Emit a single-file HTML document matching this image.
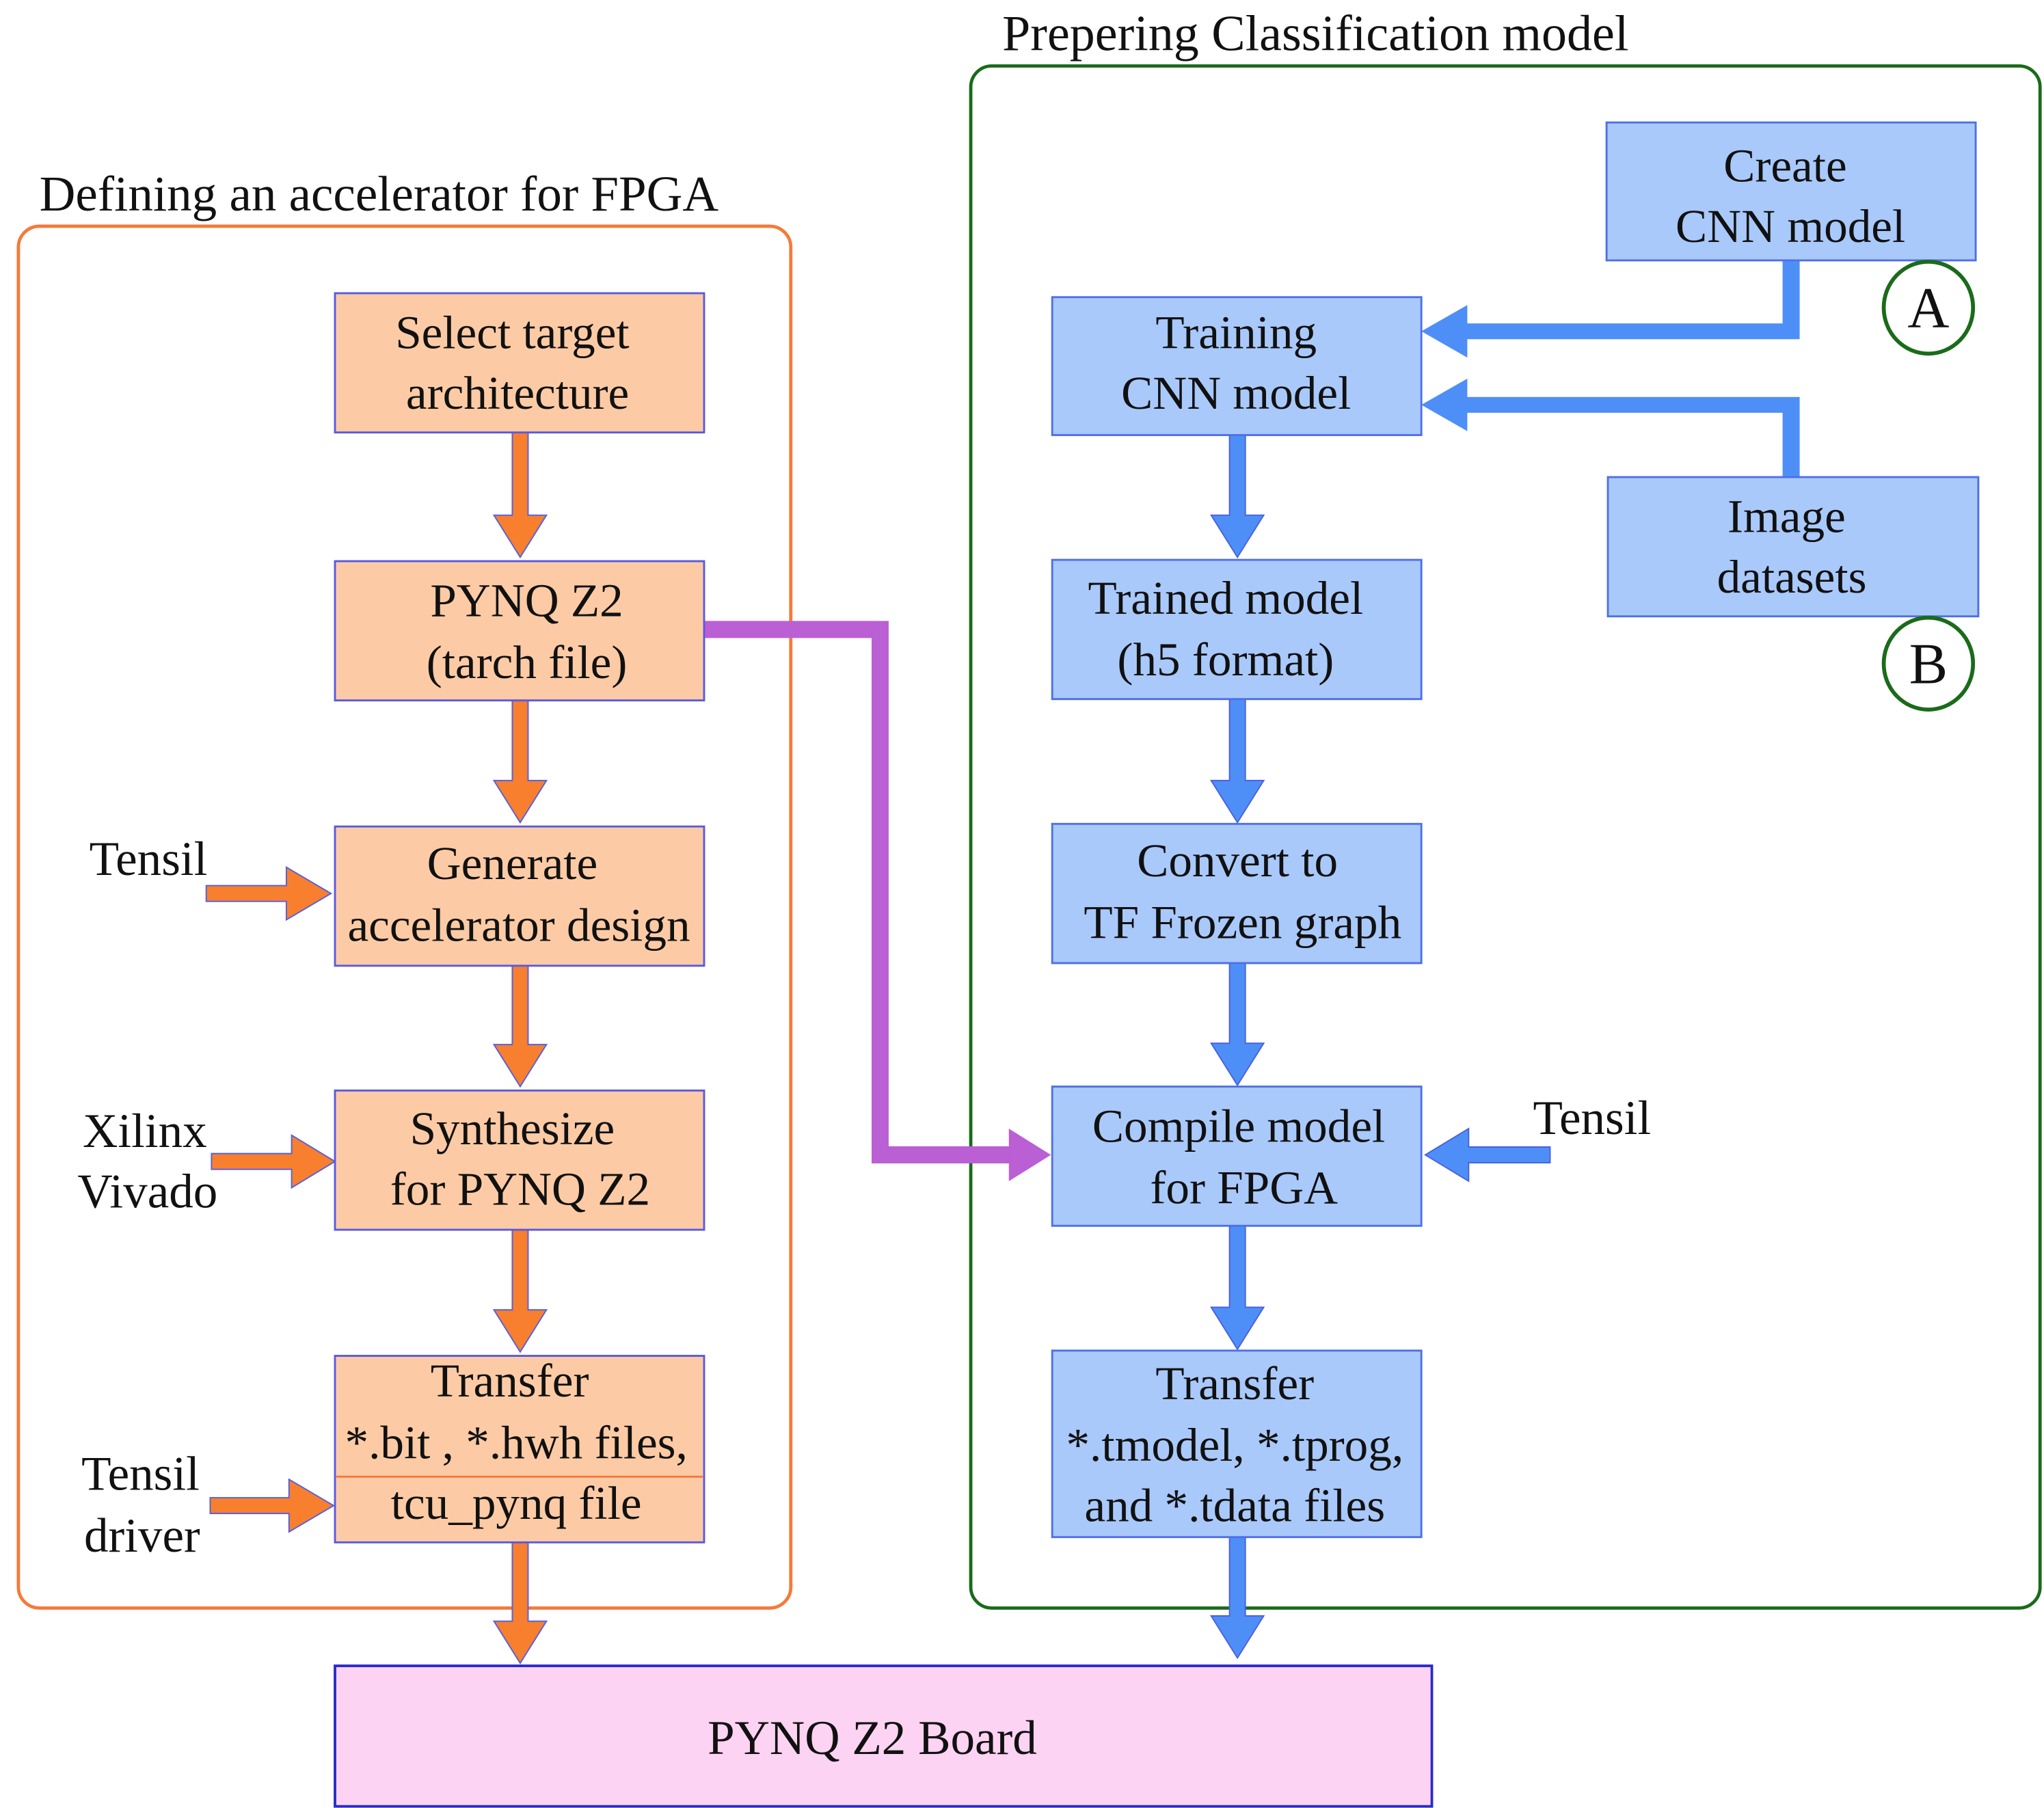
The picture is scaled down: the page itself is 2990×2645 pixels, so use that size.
<!DOCTYPE html>
<html><head><meta charset="utf-8"><style>
html,body{margin:0;padding:0;background:#fff;}
svg{display:block;}
text{font-family:"Liberation Serif",serif;fill:#111;}
</style></head><body>
<svg width="2990" height="2645" viewBox="0 0 1556 1376" xmlns="http://www.w3.org/2000/svg">
<rect x="0" y="0" width="1556" height="1376" fill="#fff"/>
<!-- containers -->
<rect x="14" y="172" width="588" height="1052" rx="16" fill="none" stroke="#f57a3a" stroke-width="2.5"/>
<text x="30" y="160" font-size="38">Defining an accelerator for FPGA</text>
<rect x="739" y="50" width="814" height="1174" rx="16" fill="none" stroke="#1a6b1a" stroke-width="2.5"/>
<text x="763" y="38" font-size="38.5">Prepering Classification model</text>

<!-- purple connector -->
<path d="M536 479 H670 V879 H770" fill="none" stroke="#bb5fd4" stroke-width="13"/>
<path d="M768 859 L800 879 L768 899 Z" fill="#bb5fd4"/>

<!-- orange vertical arrows -->
<g fill="#f77f2e" stroke="#5560e0" stroke-width="1">
<path d="M390 329 V392 H376 L396 424 L416 392 H402 V329 Z"/>
<path d="M390 533 V594 H376 L396 626 L416 594 H402 V533 Z"/>
<path d="M390 735 V795 H376 L396 827 L416 795 H402 V735 Z"/>
<path d="M390 936 V997 H376 L396 1029 L416 997 H402 V936 Z"/>
<path d="M390 1174 V1234 H376 L396 1266 L416 1234 H402 V1174 Z"/>
<!-- horizontal -->
<path d="M157 674 H218 V660 L252 680 L218 700 V686 H157 Z"/>
<path d="M161 878 H222 V864 L255 884 L222 904 V890 H161 Z"/>
<path d="M160 1140 H220 V1126 L254 1146 L220 1166 V1152 H160 Z"/>
</g>

<!-- orange boxes -->
<g fill="#fccba5" stroke="#5a5ae0" stroke-width="1.5">
<rect x="255" y="223" width="281" height="106"/>
<rect x="255" y="427" width="281" height="106"/>
<rect x="255" y="629" width="281" height="106"/>
<rect x="255" y="830" width="281" height="106"/>
<rect x="255" y="1032" width="281" height="142"/>
</g>
<line x1="256" y1="1124" x2="535" y2="1124" stroke="#f57a3a" stroke-width="1.5"/>
<g font-size="36" text-anchor="middle">
<text x="390" y="265">Select target</text>
<text x="394" y="311">architecture</text>
<text x="401" y="469">PYNQ Z2</text>
<text x="401" y="516">(tarch file)</text>
<text x="390" y="669">Generate</text>
<text x="395" y="716">accelerator design</text>
<text x="390" y="871">Synthesize</text>
<text x="396" y="917">for PYNQ Z2</text>
<text x="388" y="1063">Transfer</text>
<text x="393" y="1110">*.bit , *.hwh files,</text>
<text x="393" y="1156">tcu_pynq file</text>
</g>
<g font-size="37">
<text x="68" y="666">Tensil</text>
<text x="63" y="873">Xilinx</text>
<text x="59" y="919">Vivado</text>
<text x="62" y="1134">Tensil</text>
<text x="64" y="1181">driver</text>
<text x="1167" y="863">Tensil</text>
</g>

<!-- board -->
<rect x="255" y="1268" width="835" height="107" fill="#fcd3f3" stroke="#2a2ac8" stroke-width="2"/>
<text x="664" y="1335" font-size="37" text-anchor="middle">PYNQ Z2 Board</text>

<!-- blue connectors -->
<g fill="#4e8ff7">
<path d="M1357 198 H1370 V258 H1117 V272 L1082 252 L1117 232 V246 H1357 Z"/>
<path d="M1357 363 H1370 V302 H1117 V288 L1082 308 L1117 328 V314 H1357 Z"/>
</g>
<g fill="#4e8ff7" stroke="#4a60e0" stroke-width="1">
<path d="M936 331 V392 H922 L942 424 L962 392 H948 V331 Z"/>
<path d="M936 532 V594 H922 L942 626 L962 594 H948 V532 Z"/>
<path d="M936 733 V794 H922 L942 826 L962 794 H948 V733 Z"/>
<path d="M936 933 V995 H922 L942 1027 L962 995 H948 V933 Z"/>
<path d="M936 1170 V1230 H922 L942 1262 L962 1230 H948 V1170 Z"/>
<path d="M1180 873 H1118 V859 L1085 879 L1118 899 V885 H1180 Z"/>
</g>

<!-- blue boxes -->
<g fill="#a9c9fb" stroke="#4f6fe8" stroke-width="1.5">
<rect x="1223" y="93" width="281" height="105"/>
<rect x="801" y="226" width="281" height="105"/>
<rect x="1224" y="363" width="282" height="106"/>
<rect x="801" y="426" width="281" height="106"/>
<rect x="801" y="627" width="281" height="106"/>
<rect x="801" y="827" width="281" height="106"/>
<rect x="801" y="1028" width="281" height="142"/>
</g>
<g font-size="36" text-anchor="middle">
<text x="1359" y="138">Create</text>
<text x="1363" y="184">CNN model</text>
<text x="941" y="265">Training</text>
<text x="941" y="311">CNN model</text>
<text x="1360" y="405">Image</text>
<text x="1364" y="451">datasets</text>
<text x="933" y="467">Trained model</text>
<text x="933" y="514">(h5 format)</text>
<text x="942" y="667">Convert to</text>
<text x="946" y="714">TF Frozen graph</text>
<text x="943" y="869">Compile model</text>
<text x="947" y="916">for FPGA</text>
<text x="940" y="1065">Transfer</text>
<text x="940" y="1112">*.tmodel, *.tprog,</text>
<text x="940" y="1158">and *.tdata files</text>
</g>

<!-- circles -->
<g fill="none" stroke="#1a6b1a" stroke-width="3">
<ellipse cx="1468" cy="234" rx="34" ry="35"/>
<ellipse cx="1468" cy="505" rx="34" ry="35"/>
</g>
<g font-size="44" text-anchor="middle">
<text x="1468" y="249">A</text>
<text x="1468" y="520">B</text>
</g>
</svg>
</body></html>
